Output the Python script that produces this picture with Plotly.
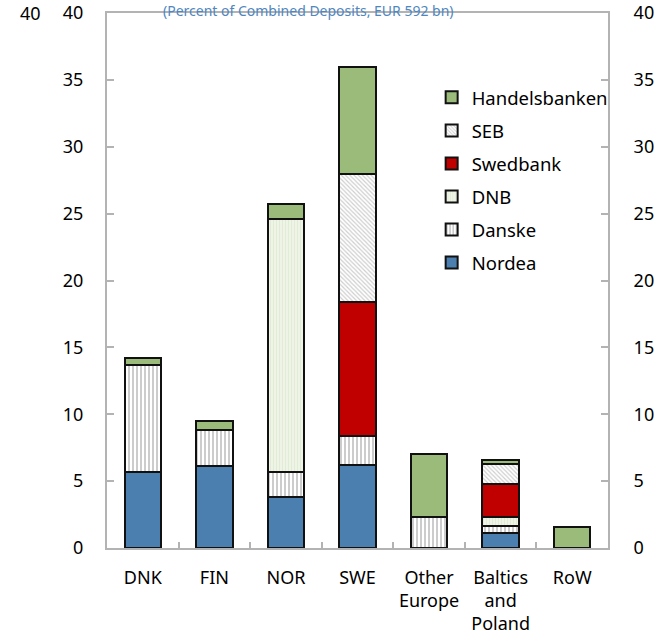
import plotly.graph_objects as go

categories = ["DNK", "FIN", "NOR", "SWE", "Other<br>Europe", "Baltics<br>and<br>Poland", "RoW"]
nordea = [5.7, 6.1, 3.8, 6.2, 0, 1.1, 0]
danske = [8.0, 2.7, 1.9, 2.2, 2.3, 0.55, 0]
dnb = [0, 0, 18.9, 0, 0, 0.65, 0]
swedbank = [0, 0, 0, 10.0, 0, 2.5, 0]
seb = [0, 0, 0, 9.6, 0, 1.5, 0]
handelsbanken = [0.5, 0.7, 1.1, 8.0, 4.7, 0.25, 1.6]
yticks = [0, 5, 10, 15, 20, 25, 30, 35, 40]

FONT = "Noto Sans"
fig = go.Figure()

series = [
    ("Nordea", nordea, dict(color="#4A7FB0")),
    ("Danske", danske, dict(color="white", pattern=dict(shape="|", fgcolor="#9A9A9A", bgcolor="white", size=4, solidity=0.5))),
    ("DNB", dnb, dict(color="#EEF4E6", pattern=dict(shape="|", fgcolor="#D3E1C2", bgcolor="#EEF4E6", size=3, solidity=0.3))),
    ("Swedbank", swedbank, dict(color="#C00000")),
    ("SEB", seb, dict(color="white", pattern=dict(shape="\\", fgcolor="#9E9E9E", bgcolor="white", size=3, solidity=0.4))),
    ("Handelsbanken", handelsbanken, dict(color="#9BBB7B")),
]
n = len(series)
for i, (name, vals, m) in enumerate(series):
    m = dict(m)
    m["line"] = dict(color="#111111", width=2)
    fig.add_trace(go.Bar(x=categories, y=vals, name=name, marker=m,
                         legendgroup=name, legendrank=100 * (n - i), yaxis="y"))

# invisible trace for right axis
fig.add_trace(go.Scatter(x=categories, y=[None] * len(categories), yaxis="y2",
                         showlegend=False, hoverinfo="skip"))

fig.update_layout(
    width=665, height=641,
    barmode="stack", bargap=0.49,
    plot_bgcolor="white", paper_bgcolor="white",
    margin=dict(l=107, r=57, t=13, b=93, autoexpand=False),
    font=dict(family=FONT, size=18, color="black"),
    showlegend=True,
    legend=dict(x=0.648, y=0.877, xanchor="left", yanchor="top",
                traceorder="grouped", tracegroupgap=6,
                font=dict(size=18.5), bgcolor="rgba(0,0,0,0)", itemwidth=30),
    xaxis=dict(showline=True, linecolor="#B3B3B3", linewidth=2, mirror=True,
               ticks="inside", ticklen=6, tickcolor="#B3B3B3", tickwidth=2,
               tickson="boundaries", tickfont=dict(size=18), automargin=False,
               ticklabelstandoff=12),
    yaxis=dict(range=[0, 40], tickvals=yticks, showline=True, linecolor="#B3B3B3",
               linewidth=2, ticks="inside", ticklen=7, tickcolor="#B3B3B3", tickwidth=2,
               showgrid=False, zeroline=False, ticklabelstandoff=18, automargin=False),
    yaxis2=dict(range=[0, 40], tickvals=yticks, overlaying="y", side="right",
                showline=True, linecolor="#B3B3B3", linewidth=2, ticks="inside",
                ticklen=7, tickcolor="#B3B3B3", tickwidth=2, showgrid=False,
                zeroline=False, ticklabelstandoff=20, automargin=False),
)

fig.add_annotation(text="(Percent of Combined Deposits, EUR 592 bn)", xref="paper", yref="paper",
                   x=0.403, y=1.0243, xanchor="center", yanchor="top", showarrow=False,
                   borderpad=0, font=dict(size=14, color="#4F86C0"))
fig.add_annotation(text="40", xref="paper", yref="y", x=-0.153, y=40, xanchor="center",
                   yanchor="middle", showarrow=False, font=dict(size=18))

fig.write_html("out.html", config={"displayModeBar": False},
               post_script="document.body.style.margin='0';document.documentElement.style.overflow='hidden';")
